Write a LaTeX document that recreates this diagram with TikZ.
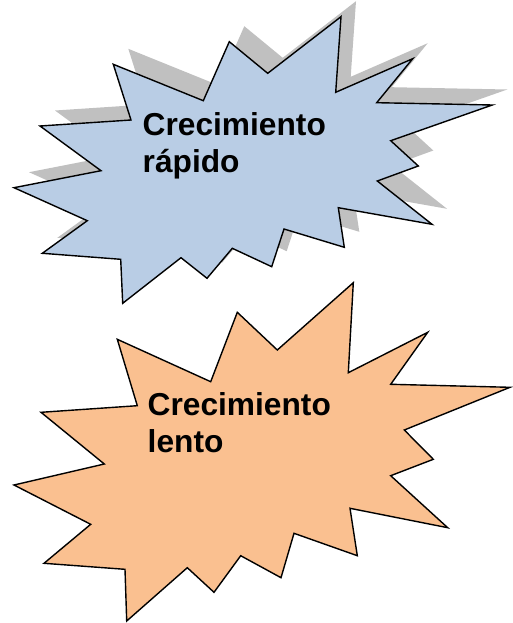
\documentclass[tikz,border=0pt]{standalone}
\usepackage{fontspec}
\setmainfont{Liberation Sans}
\definecolor{burstblue}{RGB}{185,205,229}
\definecolor{burstorange}{RGB}{250,192,144}
\definecolor{shadowgray}{RGB}{192,192,192}
\tikzset{
  burst/.style={draw=black,line width=1.4pt,line join=miter},
  burstshadow/.style={fill=shadowgray,draw=none},
  bursttext/.style={anchor=north west,inner sep=0pt,align=left,
    font=\bfseries\fontsize{31.7}{37}\selectfont}
}
\begin{document}
\begin{tikzpicture}[x=1pt,y=-1pt]
\useasboundingbox (0,0) rectangle (512,623);
% blue burst shadow
\fill[burstshadow,shift={(15,-15.5)}]
 (113.3,64.3) -- (203.3,100.7) -- (229.3,41.7) -- (267.7,73.3) -- (341,16.7) -- (335.7,92.3)
 -- (412.7,58.7) -- (376.7,102.7) -- (492.3,105) -- (390.7,140.7) -- (418.3,166) -- (377.3,181)
 -- (432,224.3) -- (338.3,207.7) -- (344.3,247.3) -- (284,229) -- (271.7,266.7) -- (232.3,248.3)
 -- (207,278.3) -- (181,257.7) -- (122.7,303.3) -- (120.7,259.3) -- (42.3,253.3) -- (87.3,220.7)
 -- (14,187.7) -- (101,170.7) -- (40,126) -- (131,120) -- cycle;
% blue burst
\filldraw[burst,fill=burstblue]
 (113.3,64.3) -- (203.3,100.7) -- (229.3,41.7) -- (267.7,73.3) -- (341,16.7) -- (335.7,92.3)
 -- (412.7,58.7) -- (376.7,102.7) -- (492.3,105) -- (390.7,140.7) -- (418.3,166) -- (377.3,181)
 -- (432,224.3) -- (338.3,207.7) -- (344.3,247.3) -- (284,229) -- (271.7,266.7) -- (232.3,248.3)
 -- (207,278.3) -- (181,257.7) -- (122.7,303.3) -- (120.7,259.3) -- (42.3,253.3) -- (87.3,220.7)
 -- (14,187.7) -- (101,170.7) -- (40,126) -- (131,120) -- cycle;
\node[bursttext] (rapido) at (142.5,112.5) {Crecimiento\\rápido};
% orange burst
\filldraw[burst,fill=burstorange]
 (117.3,339.3) -- (210.7,381.7) -- (237.3,312.3) -- (277.3,350) -- (353.3,282.7) -- (348.3,372.7)
 -- (427.7,332.3) -- (390.7,384.3) -- (510,387.3) -- (404.3,430) -- (433.3,459.3) -- (390.7,475.7)
 -- (447.7,527.7) -- (350,508.3) -- (357.3,555.7) -- (294,533.3) -- (281,577.7) -- (240.7,555.7)
 -- (214,592.3) -- (187.3,567.7) -- (126.7,621) -- (125,569.3) -- (44,563.3) -- (90.7,524.3)
 -- (14,485) -- (104.3,464) -- (41,412.3) -- (137.3,405.7) -- cycle;
\node[bursttext] (lento) at (147.5,392.8) {Crecimiento\\lento};
\end{tikzpicture}
\end{document}
